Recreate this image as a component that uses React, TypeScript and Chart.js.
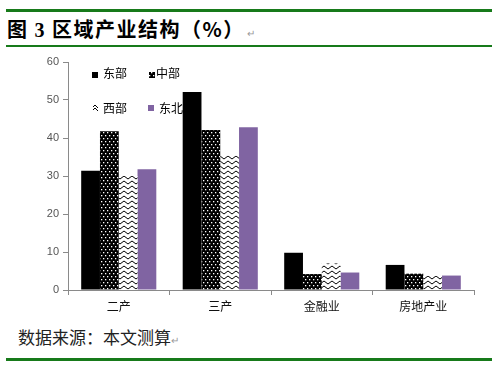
import React, { useEffect, useRef } from "react";
import { Chart, registerables } from "chart.js";

Chart.register(...registerables);

const categories = ["二产", "三产", "金融业", "房地产业"];
const seriesNames = ["东部", "中部", "西部", "东北"];
const eastValues = [31.4, 52.1, 9.8, 6.6];
const centralValues = [41.8, 42.1, 4.2, 4.3];
const westValues = [30.0, 35.3, 7.0, 3.7];
const northeastValues = [31.8, 42.8, 4.6, 3.8];
const yTicks = [0, 10, 20, 30, 40, 50, 60];

const FONT = "'Liberation Sans', 'Noto Sans CJK SC', sans-serif";
const CJK = "'Noto Sans CJK SC', sans-serif";
const GREEN = "#177a1a";
const PURPLE = "#8064a2";

function makeDots(): CanvasPattern | string {
  const c = document.createElement("canvas");
  c.width = 4;
  c.height = 6;
  const g = c.getContext("2d")!;
  g.fillStyle = "#000";
  g.fillRect(0, 0, 4, 6);
  g.fillStyle = "#fff";
  g.fillRect(1, 1, 1.3, 1.3);
  g.fillRect(3, 4, 1, 1.3);
  g.fillRect(0, 4, 0.3, 1.3);
  return g.createPattern(c, "repeat") || "#000";
}

function makeZigzag(): CanvasPattern | string {
  const c = document.createElement("canvas");
  c.width = 8;
  c.height = 5;
  const g = c.getContext("2d")!;
  g.fillStyle = "#fff";
  g.fillRect(0, 0, 8, 5);
  g.strokeStyle = "#000";
  g.lineWidth = 1;
  g.beginPath();
  g.moveTo(0, 4);
  g.lineTo(4, 1);
  g.lineTo(8, 4);
  g.stroke();
  return g.createPattern(c, "repeat") || "#fff";
}

export default function App() {
  const ref = useRef<HTMLCanvasElement>(null);
  useEffect(() => {
    if (!ref.current) return;
    const dots = makeDots();
    const zig = makeZigzag();
    const fills = ["#000", dots, zig, PURPLE];
    const legendPos = [
      { bx: 92, by: 22, tx: 103, ty: 23 },
      { bx: 149, by: 22, tx: 156, ty: 23 },
      { bx: 93, by: 54, tx: 103, ty: 58 },
      { bx: 148, by: 55, tx: 159, ty: 58 },
    ];
    const legendPlugin = {
      id: "customLegend",
      beforeDatasetsDraw(chart: any) {
        const ctx = chart.ctx;
        ctx.save();
        ctx.font = `12px ${CJK}`;
        ctx.textBaseline = "middle";
        ctx.textAlign = "left";
        seriesNames.forEach((n, i) => {
          const p = legendPos[i];
          if (i === 2) {
            ctx.strokeStyle = "#000";
            ctx.lineWidth = 1;
            ctx.beginPath();
            ctx.moveTo(p.bx, p.by + 3);
            ctx.lineTo(p.bx + 2, p.by + 1);
            ctx.lineTo(p.bx + 5, p.by + 4);
            ctx.moveTo(p.bx, p.by + 6);
            ctx.lineTo(p.bx + 2, p.by + 4);
            ctx.lineTo(p.bx + 5, p.by + 7);
            ctx.stroke();
          } else {
            ctx.fillStyle = fills[i];
            ctx.fillRect(p.bx, p.by, 6, 6);
          }
          ctx.fillStyle = "#000";
          ctx.fillText(n, p.tx, p.ty);
        });
        ctx.restore();
      },
    };
    const values = [eastValues, centralValues, westValues, northeastValues];
    const chart = new Chart(ref.current, {
      type: "bar",
      data: {
        labels: categories,
        datasets: seriesNames.map((n, i) => ({
          label: n,
          data: values[i],
          backgroundColor: fills[i] as any,
          borderWidth: 0,
          categoryPercentage: 0.74,
          barPercentage: 1,
        })),
      },
      options: {
        animation: false,
        responsive: false,
        maintainAspectRatio: false,
        layout: { padding: { left: 0, right: 28, top: 12, bottom: 0 } },
        plugins: { legend: { display: false }, tooltip: { enabled: false } },
        scales: {
          x: {
            offset: true,
            grid: {
              display: true,
              offset: true,
              drawOnChartArea: false,
              drawTicks: true,
              tickLength: 5,
              color: "#8a8a8a",
            },
            border: { display: true, color: "#8a8a8a", width: 1 },
            ticks: { color: "#111", font: { family: CJK, size: 12 }, padding: 4 },
            afterFit(scale: any) {
              scale.height = 30;
            },
          },
          y: {
            min: 0,
            max: 60,
            afterBuildTicks(scale: any) {
              scale.ticks = yTicks.map((v) => ({ value: v }));
            },
            grid: {
              display: true,
              drawOnChartArea: false,
              drawTicks: true,
              tickLength: 5,
              color: "#8a8a8a",
            },
            border: { display: true, color: "#8a8a8a", width: 1 },
            ticks: { color: "#555", font: { family: FONT, size: 11 }, padding: 4 },
            afterFit(scale: any) {
              scale.width = 68;
            },
          },
        },
      },
      plugins: [legendPlugin],
    });
    return () => chart.destroy();
  }, []);

  return (
    <div
      style={{
        position: "fixed",
        left: 0,
        top: 0,
        width: 502,
        height: 382,
        background: "#fff",
        overflow: "hidden",
      }}
    >
      <div style={{ position: "absolute", left: 6, top: 9, width: 486, height: 3, background: GREEN }} />
      <div
        style={{
          position: "absolute",
          left: 7,
          top: 15,
          fontFamily: CJK,
          fontWeight: 700,
          fontSize: 20,
          lineHeight: "28px",
          letterSpacing: "1.5px",
          color: "#000",
          whiteSpace: "nowrap",
        }}
      >
        图 <span style={{ fontFamily: "'Liberation Serif', serif" }}>3</span> 区域产业结构（%）
        <span style={{ fontSize: 10, fontWeight: 400, color: "#999", marginLeft: 2 }}>↵</span>
      </div>
      <div style={{ position: "absolute", left: 6, top: 45, width: 486, height: 2, background: GREEN }} />
      <canvas
        ref={ref}
        width={502}
        height={270}
        style={{ position: "absolute", left: 0, top: 50, width: 502, height: 270 }}
      />
      <div
        style={{
          position: "absolute",
          left: 18,
          top: 325,
          fontFamily: CJK,
          fontSize: 17,
          lineHeight: "24px",
          color: "#222",
          whiteSpace: "nowrap",
        }}
      >
        数据来源：本文测算
        <span style={{ fontSize: 10, color: "#999" }}>↵</span>
      </div>
      <div style={{ position: "absolute", left: 6, top: 358, width: 486, height: 3, background: GREEN }} />
    </div>
  );
}
